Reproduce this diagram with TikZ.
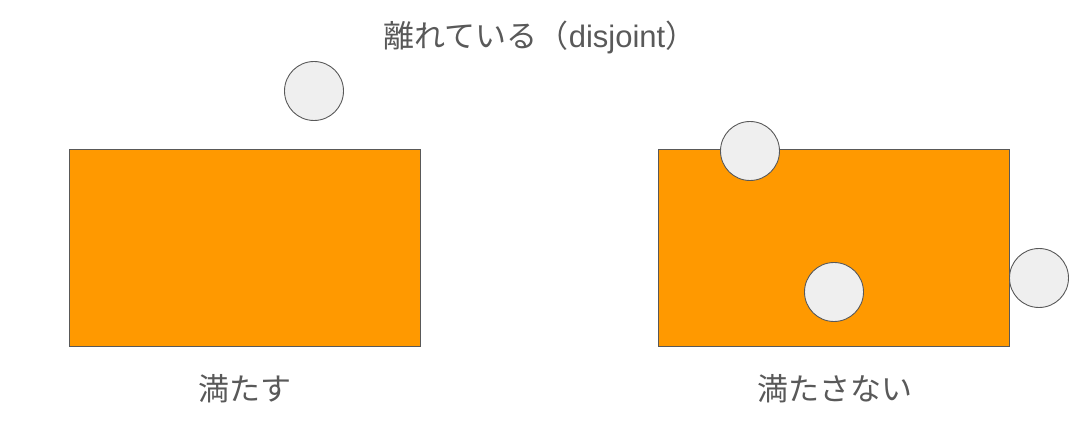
\documentclass[tikz,border=0pt]{standalone}
\usepackage{fontspec}
\setmainfont{Noto Sans CJK JP}
\newfontfamily\latinfont{Liberation Sans}
\usepackage{tikz}
\usetikzlibrary{positioning}
\definecolor{boxorange}{HTML}{FF9900}
\definecolor{ballgray}{HTML}{EFEFEF}
\definecolor{edgegray}{HTML}{595959}
\tikzset{
    x=1pt,y=-1pt,
    region/.style ={draw=edgegray, fill=boxorange, line width=0.8pt, inner sep=0pt, minimum width=351pt, minimum height=197pt},
    ball/.style = {circle, draw=edgegray, fill=ballgray, line width=0.9pt, inner sep=0pt, minimum size=59pt},
    caption/.style={text=edgegray, inner sep=0pt, font=\fontsize{31}{35}\selectfont}
}
\begin{document}
\begin{tikzpicture}
        \useasboundingbox (0,0) rectangle (1080,422);
        % Title
        \node[caption] (title) at (540,37) {離れている（{\latinfont disjoint}）};
        % Left: satisfied
        \node[region] (goodbox) at (244.5,247.5) {};
        \node[ball] (goodball) at (314,91) {};
        \node[caption] (goodlabel) at (245,389) {満たす};
        % Right: not satisfied
        \node[region] (badbox) at (834,247.5) {};
        \node[ball] (badtop) at (750,151) {};
        \node[ball] (badin) at (834,292) {};
        \node[ball] (badside) at (1039,278) {};
        \node[caption] (badlabel) at (835,389) {満たさない};
\end{tikzpicture}
\end{document}
